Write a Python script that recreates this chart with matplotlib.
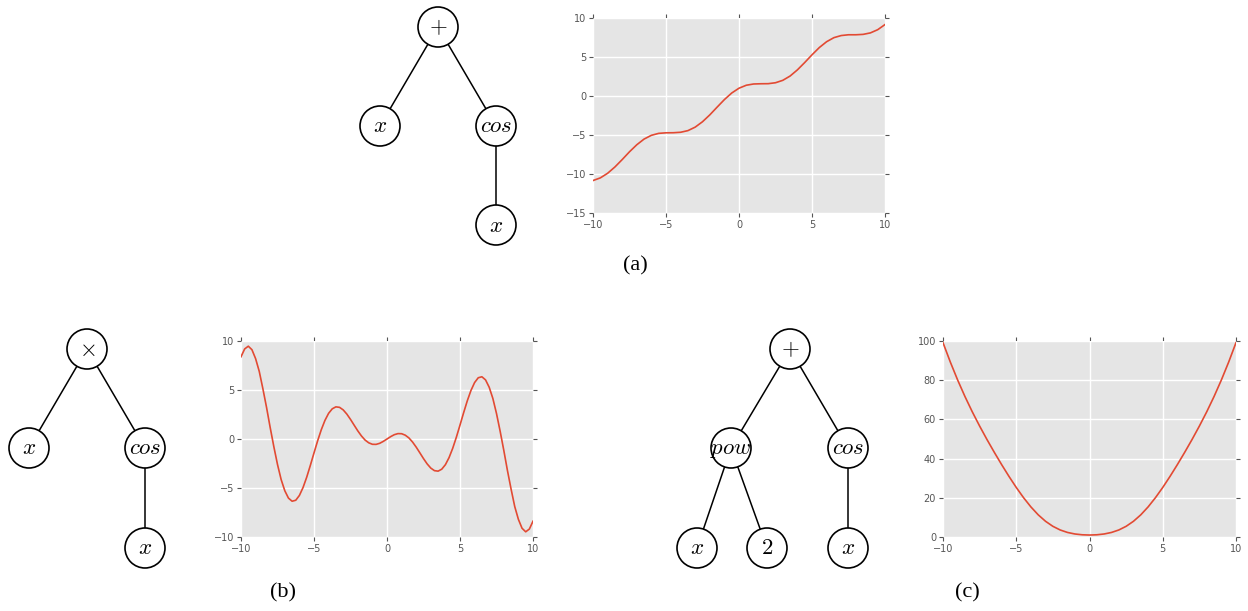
import numpy as np
import matplotlib
matplotlib.use("Agg")
import matplotlib.pyplot as plt
from matplotlib.patches import Circle

plt.rcParams["mathtext.fontset"] = "cm"

W, H = 1248, 611

# sampled curves on [-10, 10]
x_half = [-10.0 + 0.5 * i for i in range(41)]
y_plus_cos = [-10.84, -10.50, -9.91, -9.10, -8.15, -7.15, -6.25, -5.52, -5.04, -4.79,
              -4.72, -4.71, -4.65, -4.44, -3.99, -3.30, -2.42, -1.43, -0.46, 0.38,
              1.00, 1.38, 1.54, 1.57, 1.58, 1.70, 2.01, 2.56, 3.35, 4.29,
              5.28, 6.21, 6.96, 7.48, 7.75, 7.85, 7.85, 7.90, 8.09, 8.50, 9.16]
y_pow_cos = [99.16, 89.25, 80.09, 71.65, 63.85, 56.60, 49.75, 43.23, 36.96, 30.96,
             25.28, 20.04, 15.35, 11.31, 8.01, 5.45, 3.58, 2.32, 1.54, 1.13,
             1.00, 1.13, 1.54, 2.32, 3.58, 5.45, 8.01, 11.31, 15.35, 20.04,
             25.28, 30.96, 36.96, 43.23, 49.75, 56.60, 63.85, 71.65, 80.09, 89.25, 99.16]

x_quarter = [-10.0 + 0.25 * i for i in range(81)]
y_times_cos = [8.39, 9.19, 9.47, 9.11, 8.20, 6.90, 5.12, 3.22, 1.16, -0.79,
               -2.60, -4.14, -5.28, -6.03, -6.35, -6.25, -5.76, -4.95, -3.90, -2.69,
               -1.42, -0.18, 0.95, 1.90, 2.62, 3.08, 3.28, 3.23, 2.97, 2.54,
               2.00, 1.41, 0.83, 0.31, -0.11, -0.39, -0.54, -0.55, -0.44, -0.24,
               0.00,
               0.24, 0.44, 0.55, 0.54, 0.39, 0.11, -0.31, -0.83, -1.41, -2.00,
               -2.54, -2.97, -3.23, -3.28, -3.08, -2.62, -1.90, -0.95, 0.18, 1.42,
               2.69, 3.90, 4.95, 5.76, 6.25, 6.35, 6.03, 5.28, 4.14, 2.60,
               0.79, -1.16, -3.22, -5.12, -6.90, -8.20, -9.11, -9.47, -9.19, -8.39]

# expression trees: node label, centre (px); edges by node index
trees = [
    ([(r"$+$", 438, 27), (r"$x$", 380, 126), (r"$cos$", 496, 126), (r"$x$", 496, 225)],
     [(0, 1), (0, 2), (2, 3)]),
    ([(r"$\times$", 87, 349), (r"$x$", 29, 448), (r"$cos$", 145, 448), (r"$x$", 145, 548)],
     [(0, 1), (0, 2), (2, 3)]),
    ([(r"$+$", 790, 349), (r"$pow$", 731, 448), (r"$cos$", 848, 448),
      (r"$x$", 697, 548), (r"$2$", 767, 548), (r"$x$", 848, 548)],
     [(0, 1), (0, 2), (1, 3), (1, 4), (2, 5)]),
]
R = 20

captions = [("(a)", 635, 266), ("(b)", 283, 593), ("(c)", 967, 593)]

fig = plt.figure(figsize=(W / 100, H / 100), dpi=100)

# tree layer in pixel coordinates
bg = fig.add_axes([0, 0, 1, 1])
bg.set_xlim(0, W); bg.set_ylim(H, 0); bg.axis("off")
for nodes, edges in trees:
    for a, b in edges:
        _, x1, y1 = nodes[a]; _, x2, y2 = nodes[b]
        d = np.hypot(x2 - x1, y2 - y1)
        ux, uy = (x2 - x1) / d, (y2 - y1) / d
        bg.plot([x1 + R * ux, x2 - R * ux], [y1 + R * uy, y2 - R * uy],
                color="k", lw=1.1, solid_capstyle="butt")
    for lab, cx, cy in nodes:
        bg.add_patch(Circle((cx, cy), R, fill=False, ec="k", lw=1.2))
        bg.text(cx, cy, lab, ha="center", va="center", fontsize=16.5)
for lab, cx, cy in captions:
    bg.text(cx, cy, lab, ha="center", va="center", fontsize=16,
            family="Liberation Serif")


def panel(box, xs, ys, ylim, ystep):
    l, t, r, b = box
    ax = fig.add_axes([l / W, 1 - b / H, (r - l) / W, (b - t) / H])
    ax.set_facecolor("#E5E5E5")
    for s in ax.spines.values():
        s.set_visible(False)
    ax.grid(True, color="white", lw=1.0)
    ax.set_axisbelow(True)
    ax.plot(xs, ys, color="#E24A33", lw=1.2)
    ax.set_xlim(-10, 10)
    ax.set_ylim(*ylim)
    ax.set_xticks(np.arange(-10, 11, 5))
    ax.set_yticks(np.arange(ylim[0], ylim[1] + 1, ystep))
    ax.tick_params(direction="out", length=3, width=0.8, color="#555555",
                   labelcolor="#555555", labelsize=7, pad=2,
                   top=True, right=True)
    return ax


panel((593, 18, 885, 213), x_half, y_plus_cos, (-15, 10), 5)
panel((241, 341, 533, 537), x_quarter, y_times_cos, (-10, 10), 5)
panel((943, 341, 1236, 537), x_half, y_pow_cos, (0, 100), 20)

fig.savefig("out.png", dpi=100)
